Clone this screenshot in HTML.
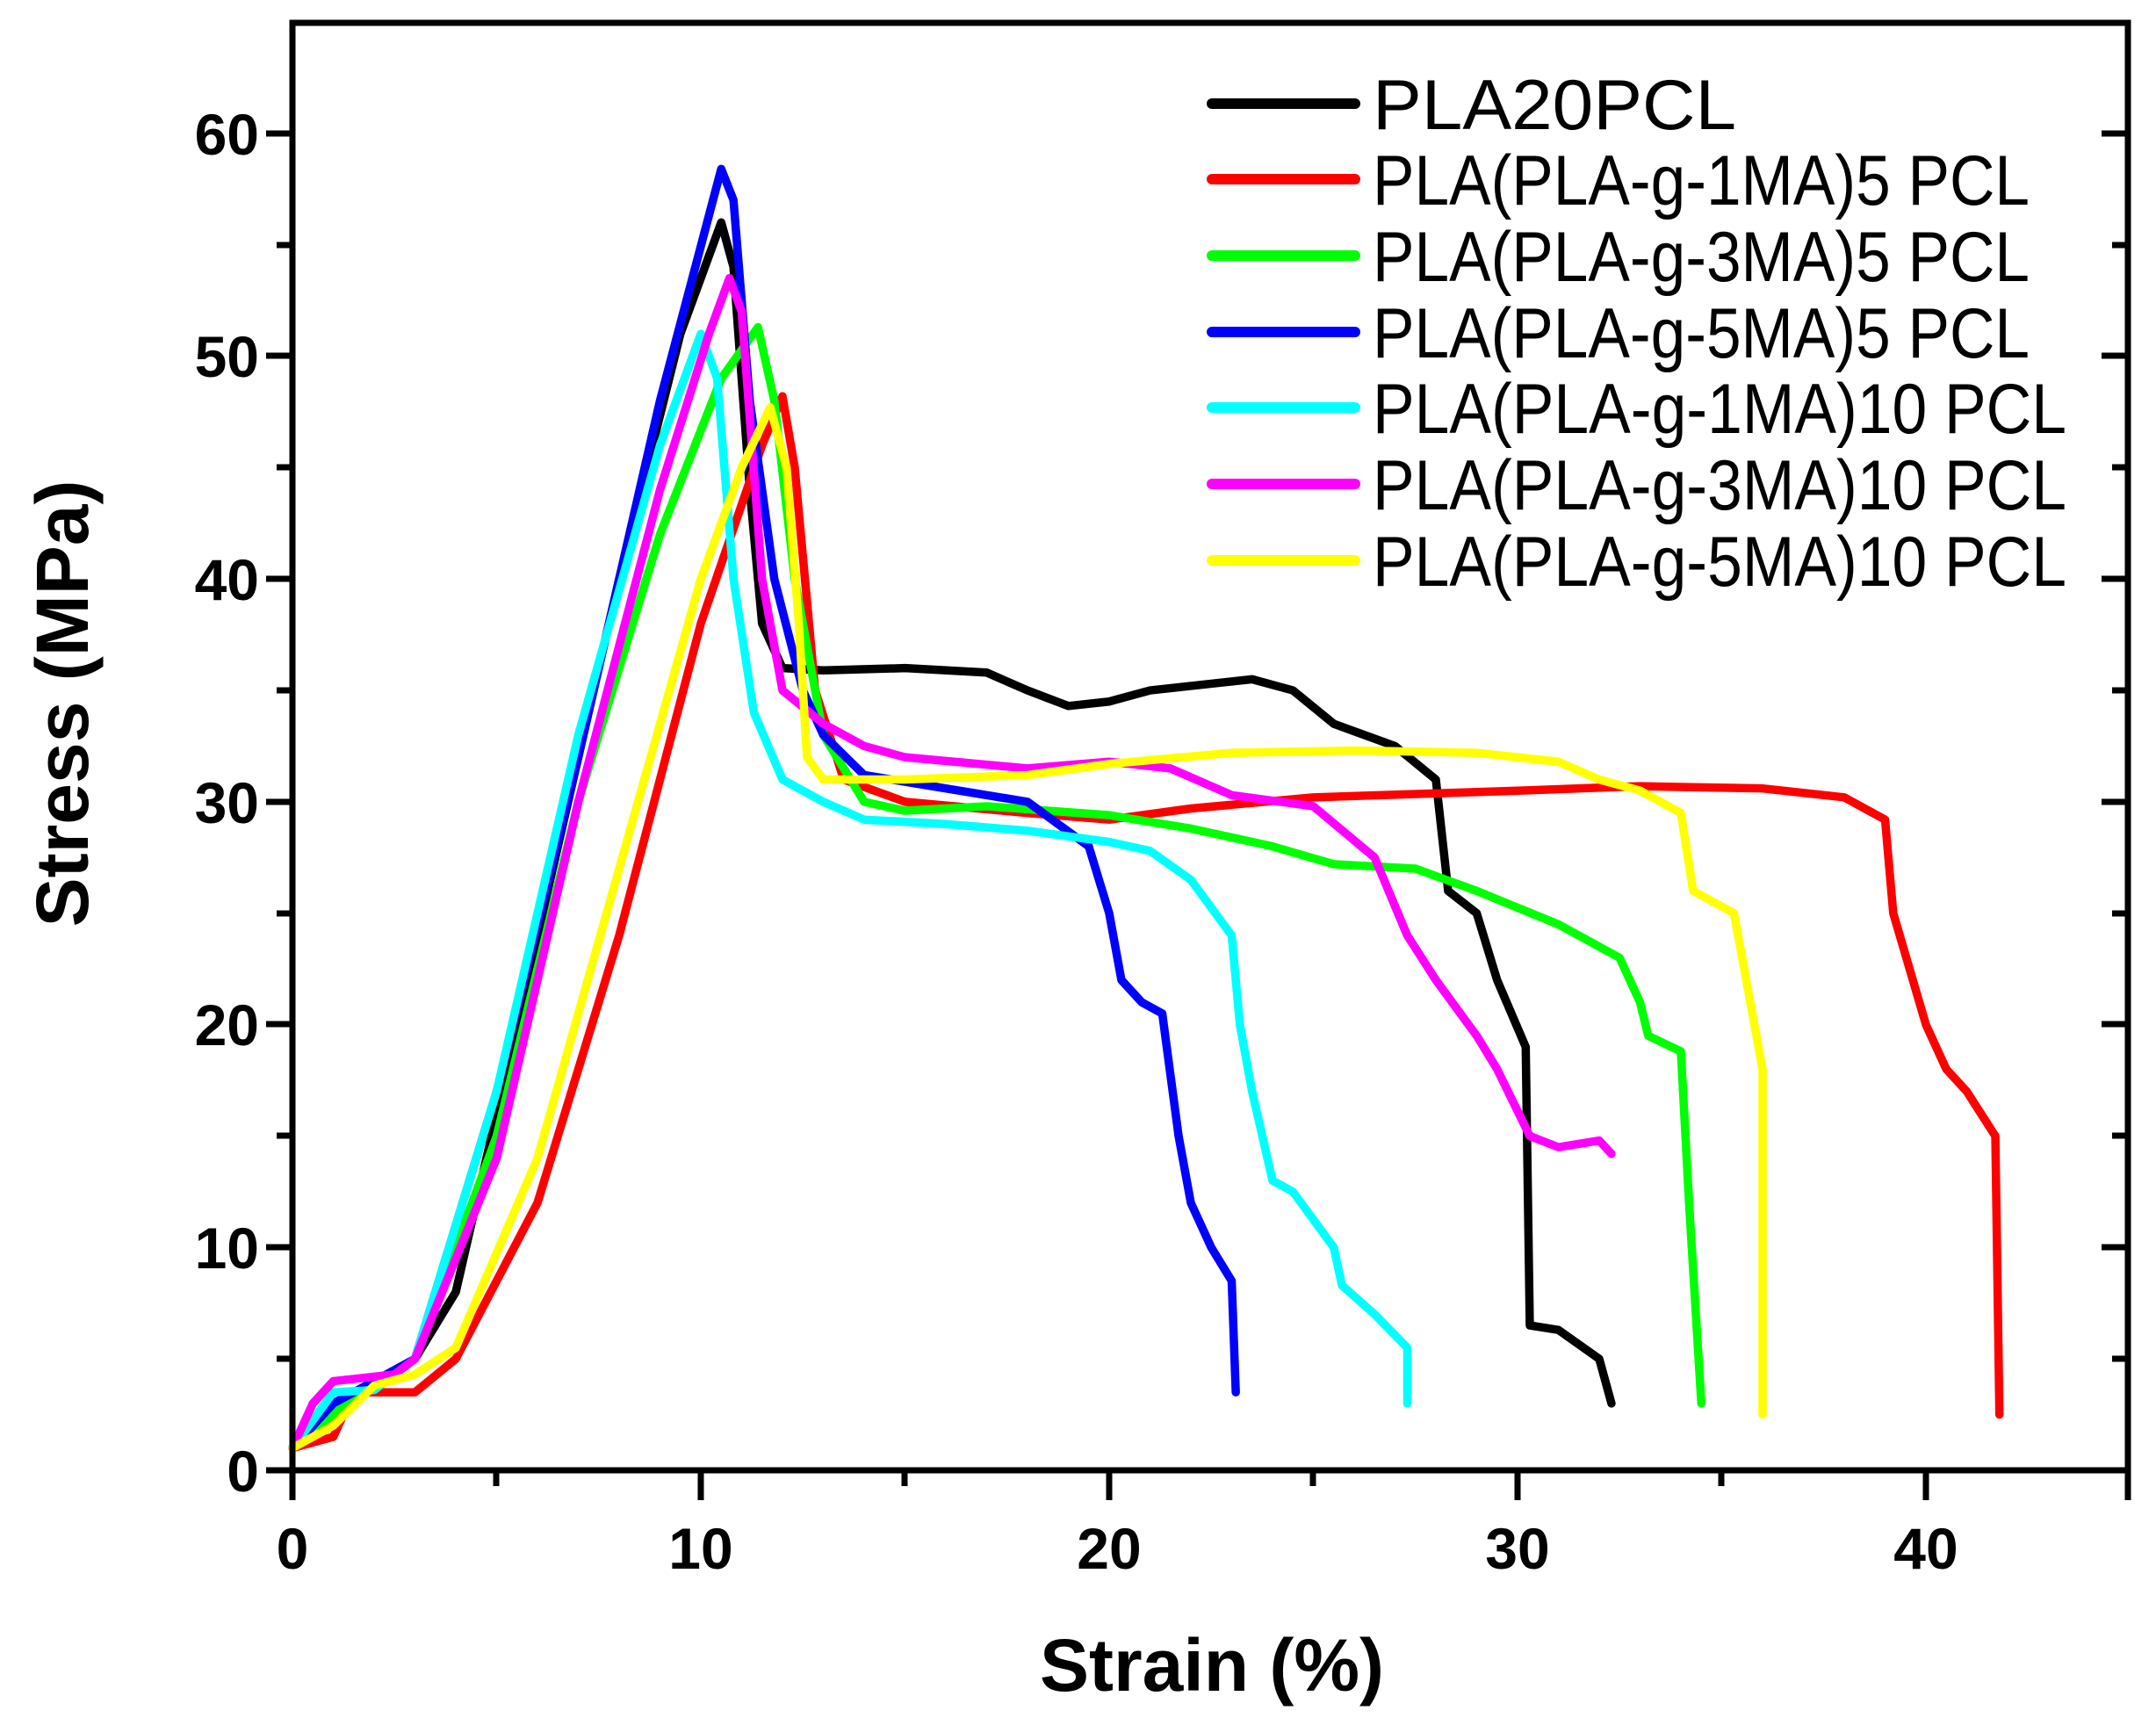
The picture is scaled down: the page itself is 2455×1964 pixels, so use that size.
<!DOCTYPE html>
<html><head><meta charset="utf-8"><style>html,body{margin:0;padding:0;background:#fff}svg{display:block}</style></head>
<body>
<svg width="2455" height="1964" viewBox="0 0 2455 1964" xmlns="http://www.w3.org/2000/svg" font-family="Liberation Sans, sans-serif">
<rect width="2455" height="1964" fill="#fff"/>
<g fill="none" stroke-width="9.5" stroke-linejoin="round" stroke-linecap="round">
<g transform="translate(333,1674) scale(46.5,-25.37)">
<polyline vector-effect="non-scaling-stroke" stroke="#000" points="0,1 2,4 3,5 4,8 6,24 8,40 9.5,51 10.5,56 10.8,54 11.2,44 11.5,38 12,36 13,35.9 15,36 17,35.8 18,35 19,34.3 20,34.5 21,35 23.5,35.5 24.5,35 25.5,33.5 27,32.5 28,31 28.3,26 29,25 29.5,22 30.2,19 30.3,6.5 31,6.3 32,5 32.3,3"/>
<polyline vector-effect="non-scaling-stroke" stroke="#ff0000" points="0,1 1,1.5 1.5,3.5 3,3.5 4,5 6,12 8,24 10,38 11.5,46 12,48.2 12.3,45 12.8,35 13.5,31 15,30 18,29.5 20,29.2 22,29.7 25,30.2 30,30.5 33,30.7 36,30.6 38,30.2 39,29.2 39.2,25 40,20 40.5,18 41,17 41.7,15 41.8,2.5"/>
<polyline vector-effect="non-scaling-stroke" stroke="#00ff00" points="0,1 2,4 3,5 5,15 7,30 9,42 10.5,49 11.4,51.3 11.8,48 12.3,40 13,33 14,30 15,29.6 17,29.8 20,29.4 22,28.8 24,28 25.5,27.2 27.5,27 29,26 31,24.5 32.5,23 33,21 33.2,19.5 34,18.8 34.2,12 34.5,3"/>
<polyline vector-effect="non-scaling-stroke" stroke="#0000ff" points="0,1 1,3 3,5 5,17 7,32 9,48 10.5,58.4 10.8,57 11.2,48 11.8,40 12.5,35 13,33 14,31.2 16,30.6 18,30 19.5,28 20,25 20.3,22 20.8,21 21.3,20.5 21.7,15 22,12 22.5,10 23,8.5 23.1,3.5"/>
<polyline vector-effect="non-scaling-stroke" stroke="#00ffff" points="0,1 1,3.5 2,3.6 3,5 5,17 7,33 9,46 10,51 10.4,49 10.8,40 11.3,34 12,31 13,30 14,29.2 16,29 18,28.7 20,28.2 21,27.8 22,26.5 23,24 23.2,20 23.5,17 24,13 24.5,12.5 25.5,10 25.7,8.3 26.5,7 27.3,5.5 27.3,3"/>
<polyline vector-effect="non-scaling-stroke" stroke="#ff00ff" points="0,1 0.5,3 1,4 2.5,4.3 3,5 5,14 7,30 9,44 10.2,51 10.7,53.5 11,52 11.5,40 12,35 13,33.5 14,32.5 15,32 18,31.5 20,31.8 21.5,31.5 23,30.3 25,29.8 26.5,27.5 27.3,24 28,22 29,19.5 29.5,18 30.3,15 31,14.5 32,14.8 32.3,14.2"/>
<polyline vector-effect="non-scaling-stroke" stroke="#ffff00" points="0,1 1,2 2,3.8 3,4.3 4,5.5 6,14 8,27 10,40 11,45 11.7,47.7 12.1,45 12.4,38 12.6,32 13,31 15,31 18,31.2 20,31.7 23,32.2 26,32.3 29,32.2 31,31.8 32,31 33,30.5 34,29.5 34.3,26 35,25.3 35.3,25 36,18 36,2.5"/>
</g>
</g>
<g stroke="#000" stroke-width="7" fill="none">
<rect x="333" y="26" width="2090" height="1648"/>
<path d="M303,1674H333M303,1420H333M303,1166H333M303,913H333M303,659H333M303,405H333M303,152H333
M315,1547H333M315,1293H333M315,1040H333M315,786H333M315,532H333M315,279H333
M2423,1674H2393M2423,1420H2393M2423,1166H2393M2423,913H2393M2423,659H2393M2423,405H2393M2423,152H2393
M2423,1547H2405M2423,1293H2405M2423,1040H2405M2423,786H2405M2423,532H2405M2423,279H2405"/>
<path d="M333,1674V1708M798,1674V1708M1263,1674V1708M1728,1674V1708M2193,1674V1708M2423,1674V1708
M565,1674V1692M1030,1674V1692M1495,1674V1692M1960,1674V1692"/>
</g>
<g font-weight="bold" font-size="66" text-anchor="end" fill="#000">
<text x="295" y="1698">0</text><text x="295" y="1444">10</text><text x="295" y="1190">20</text><text x="295" y="937">30</text><text x="295" y="683">40</text><text x="295" y="429">50</text><text x="295" y="176">60</text>
</g>
<g font-weight="bold" font-size="66" text-anchor="middle" fill="#000">
<text x="333" y="1786">0</text><text x="798" y="1786">10</text><text x="1263" y="1786">20</text><text x="1728" y="1786">30</text><text x="2193" y="1786">40</text>
</g>
<text x="1380" y="1925" font-weight="bold" font-size="84" text-anchor="middle">Strain (%)</text>
<text transform="translate(100,801) rotate(-90)" font-weight="bold" font-size="84" text-anchor="middle">Stress (MPa)</text>
<g stroke-width="12" stroke-linecap="round">
<line x1="1380" y1="118" x2="1543" y2="118" stroke="#000"/>
<line x1="1380" y1="204" x2="1543" y2="204" stroke="#ff0000"/>
<line x1="1380" y1="291" x2="1543" y2="291" stroke="#00ff00"/>
<line x1="1380" y1="378" x2="1543" y2="378" stroke="#0000ff"/>
<line x1="1380" y1="464" x2="1543" y2="464" stroke="#00ffff"/>
<line x1="1380" y1="551" x2="1543" y2="551" stroke="#ff00ff"/>
<line x1="1380" y1="638" x2="1543" y2="638" stroke="#ffff00"/>
</g>
<g font-size="81" fill="#000">
<text x="1563" y="147" textLength="414" lengthAdjust="spacingAndGlyphs">PLA20PCL</text>
<text x="1563" y="233" textLength="748" lengthAdjust="spacingAndGlyphs">PLA(PLA-g-1MA)5 PCL</text>
<text x="1563" y="320" textLength="748" lengthAdjust="spacingAndGlyphs">PLA(PLA-g-3MA)5 PCL</text>
<text x="1563" y="407" textLength="748" lengthAdjust="spacingAndGlyphs">PLA(PLA-g-5MA)5 PCL</text>
<text x="1563" y="493" textLength="790" lengthAdjust="spacingAndGlyphs">PLA(PLA-g-1MA)10 PCL</text>
<text x="1563" y="580" textLength="790" lengthAdjust="spacingAndGlyphs">PLA(PLA-g-3MA)10 PCL</text>
<text x="1563" y="667" textLength="790" lengthAdjust="spacingAndGlyphs">PLA(PLA-g-5MA)10 PCL</text>
</g>
</svg>
</body></html>
